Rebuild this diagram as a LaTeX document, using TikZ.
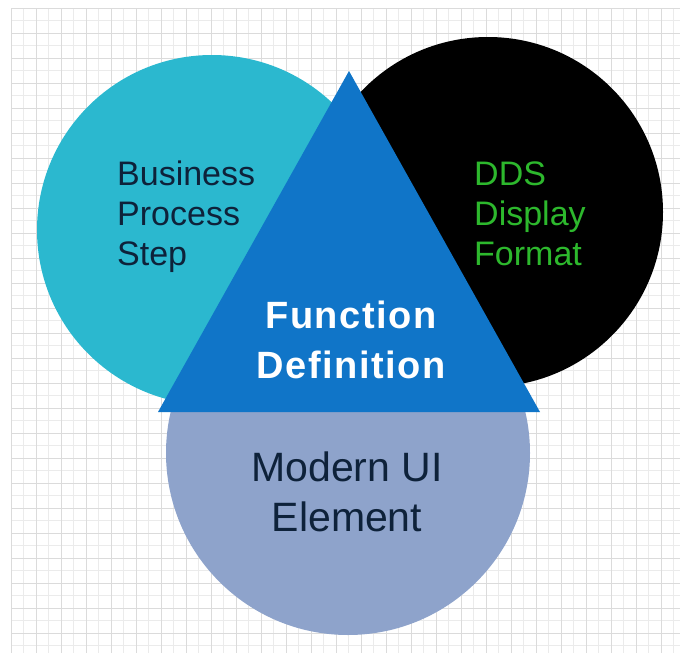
\documentclass[tikz,border=0pt]{standalone}
\usepackage{fontspec}
\setmainfont{Liberation Sans}
\usepackage{xcolor}
\usetikzlibrary{positioning,calc}

\definecolor{stepcyan}{RGB}{43,184,207}
\definecolor{uilav}{RGB}{142,163,203}
\definecolor{fnblue}{RGB}{16,117,200}
\definecolor{ddsgreen}{RGB}{45,184,45}
\definecolor{inknavy}{RGB}{14,34,58}

\begin{document}
\begin{tikzpicture}[x=1pt,y=-1pt,
    lobe/.style={circle, inner sep=0pt, minimum size=#1},
    lobetext/.style={anchor=west, align=left, inner sep=0pt, font=\fontsize{34}{40}\selectfont},
    minorgrid/.style={draw=black!8, line width=0.6pt},
    majorgrid/.style={draw=black!14, line width=0.8pt}]
    \useasboundingbox (0,0) rectangle (680,653);

    % grid paper
    \foreach \gx in {11,23.5,...,680} \draw[minorgrid] (\gx,8) -- (\gx,653);
    \foreach \gy in {8,20.5,...,653} \draw[minorgrid] (11,\gy) -- (680,\gy);
    \foreach \gx in {11,36,...,680} \draw[majorgrid] (\gx,8) -- (\gx,653);
    \foreach \gy in {8,33,...,653} \draw[majorgrid] (11,\gy) -- (680,\gy);

    % circles
    \node [lobe=350pt, fill=stepcyan] (bps) at (212,230) {};
    \node [lobe=350pt, fill=black] (dds) at (488,212) {};
    \node [lobe=364pt, fill=uilav] (mui) at (348,453) {};

    % triangle
    \coordinate (apex) at (349,71);
    \coordinate (bl) at (158,412);
    \coordinate (br) at (540,412);
    \fill[fnblue] (apex) -- (br) -- (bl) -- cycle;

    % labels
    \node [lobetext, text=inknavy] (bpstext) at (117,217) {Business\\Process\\Step};
    \node [lobetext, text=ddsgreen] (ddstext) at (474,214) {DDS\\Display\\Format};
    \node [align=center, inner sep=0pt, text=white,
           font=\addfontfeature{LetterSpace=4}\fontsize{38}{50}\selectfont\bfseries] (fntext) at (351,340) {Function\\Definition};
    \node [align=center, inner sep=0pt, text=inknavy,
           font=\fontsize{41}{50}\selectfont] (muitext) at (347,492) {Modern UI\\Element};
\end{tikzpicture}
\end{document}
